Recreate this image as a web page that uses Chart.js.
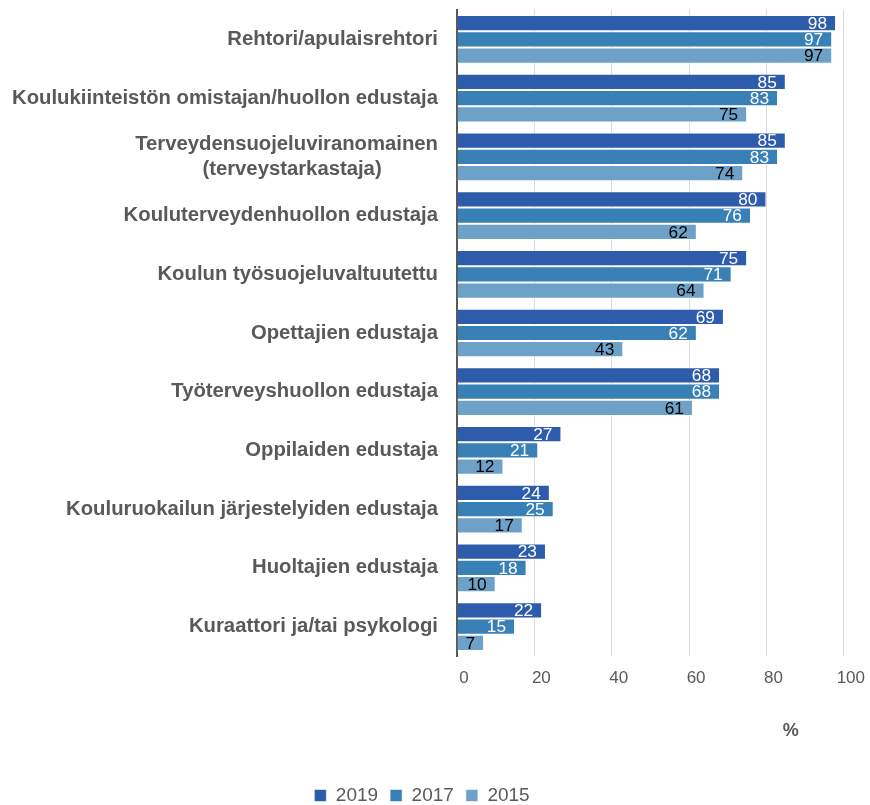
<!DOCTYPE html>
<html>
<head>
<meta charset="utf-8">
<script src="https://cdn.jsdelivr.net/npm/chart.js@4"></script>
<style>
  html, body { margin: 0; padding: 0; background: #ffffff; }
  #wrap { width: 870px; height: 805px; position: relative; }
</style>
</head>
<body>
<div id="wrap"><canvas id="c" width="870" height="805"></canvas></div>
<script>
const categories = [
  "Rehtori/apulaisrehtori",
  "Koulukiinteistön omistajan/huollon edustaja",
  ["Terveydensuojeluviranomainen", "(terveystarkastaja)"],
  "Kouluterveydenhuollon edustaja",
  "Koulun työsuojeluvaltuutettu",
  "Opettajien edustaja",
  "Työterveyshuollon edustaja",
  "Oppilaiden edustaja",
  "Kouluruokailun järjestelyiden edustaja",
  "Huoltajien edustaja",
  "Kuraattori ja/tai psykologi"
];
const seriesNames = ["2019", "2017", "2015"];
const values2019 = [98, 85, 85, 80, 75, 69, 68, 27, 24, 23, 22];
const values2017 = [97, 83, 83, 76, 71, 62, 68, 21, 25, 18, 15];
const values2015 = [97, 75, 74, 62, 64, 43, 61, 12, 17, 10, 7];
const xTicks = [0, 20, 40, 60, 80, 100];
const axisTitle = "%";

const colors = ["#2E5CAC", "#3880B6", "#6EA1C8"];
const labelColors = ["#ffffff", "#ffffff", "#000000"];
const FONT = "'Liberation Sans', Arial, sans-serif";
const GRAY = "#595959";
const CAT_SIZE = 20.3;

// centre the second line of multi-line labels under the first (pad with spaces)
const mctx = document.createElement('canvas').getContext('2d');
mctx.font = "bold " + CAT_SIZE + "px " + FONT;
const labels = categories.map(c => {
  if (!Array.isArray(c)) return c;
  const w0 = mctx.measureText(c[0]).width;
  return c.map((line, i) => {
    if (i === 0) return line;
    let s = line;
    while (mctx.measureText(s + " ").width - mctx.measureText(line).width <= (w0 - mctx.measureText(line).width) / 2) s += " ";
    return s;
  });
});

const valueLabels = {
  id: 'valueLabels',
  afterDatasetsDraw(chart) {
    const ctx = chart.ctx;
    ctx.save();
    ctx.font = "17.3px " + FONT;
    ctx.textAlign = 'right';
    ctx.textBaseline = 'middle';
    chart.data.datasets.forEach((ds, di) => {
      const meta = chart.getDatasetMeta(di);
      ctx.fillStyle = labelColors[di];
      meta.data.forEach((bar, i) => {
        ctx.fillText(String(ds.data[i]), bar.x - 9, bar.y + 1);
      });
    });
    ctx.restore();
  }
};

new Chart(document.getElementById('c'), {
  type: 'bar',
  data: {
    labels: labels,
    datasets: [
      { label: seriesNames[0], data: values2019, backgroundColor: colors[0] },
      { label: seriesNames[1], data: values2017, backgroundColor: colors[1] },
      { label: seriesNames[2], data: values2015, backgroundColor: colors[2] }
    ]
  },
  options: {
    indexAxis: 'y',
    responsive: false,
    animation: false,
    devicePixelRatio: 1,
    layout: { padding: { top: 10, right: 26, left: 0, bottom: -10 } },
    datasets: {
      bar: {
        barPercentage: 1,
        categoryPercentage: 0.83,
        borderWidth: 1,
        borderColor: 'rgba(255,255,255,0.55)'
      }
    },
    scales: {
      x: {
        min: 0, max: 100,
        afterBuildTicks(scale) { scale.ticks = xTicks.map(v => ({ value: v })); },
        grid: { color: '#D9D9D9', lineWidth: 1, drawTicks: false },
        border: { display: false },
        ticks: { color: GRAY, font: { family: FONT, size: 17 }, padding: 12, labelOffset: 7 },
        title: {
          display: true,
          text: axisTitle + "         ",
          align: 'end',
          color: GRAY,
          font: { family: FONT, size: 18, weight: 'bold' },
          padding: { top: 20, bottom: 32 }
        }
      },
      y: {
        grid: { display: false, drawTicks: false },
        border: { display: true, color: GRAY, width: 2 },
        ticks: { color: GRAY, font: { family: FONT, size: CAT_SIZE, weight: 'bold', lineHeight: 1.25 }, padding: 19 },
        afterFit(scale) { scale.width = 457; scale.paddingTop = 0; scale.paddingBottom = 0; }
      }
    },
    plugins: {
      legend: {
        position: 'bottom',
        labels: {
          color: GRAY,
          font: { family: FONT, size: 19 },
          boxWidth: 12, boxHeight: 12,
          padding: 12
        }
      },
      tooltip: { enabled: false }
    }
  },
  plugins: [valueLabels]
});
</script>
</body>
</html>
